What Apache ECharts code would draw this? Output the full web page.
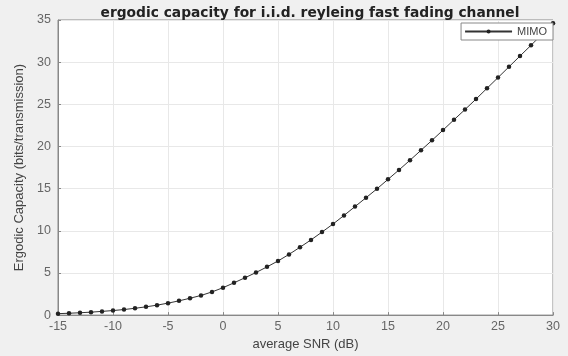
<!DOCTYPE html>
<html>
<head>
<meta charset="utf-8">
<script src="https://cdn.jsdelivr.net/npm/echarts@6/dist/echarts.min.js"></script>
<style>html,body{margin:0;padding:0;background:#f0f0f0;}#c{width:568px;height:356px;}</style>
</head>
<body>
<div id="c"></div>
<script>
var snr = [-15,-14,-13,-12,-11,-10,-9,-8,-7,-6,-5,-4,-3,-2,-1,0,1,2,3,4,5,6,7,8,9,10,11,12,13,14,15,16,17,18,19,20,21,22,23,24,25,26,27,28,29,30];
var capacity = [0.17,0.22,0.28,0.35,0.44,0.54,0.66,0.81,0.98,1.18,1.42,1.69,2.0,2.33,2.75,3.25,3.83,4.43,5.05,5.72,6.42,7.2,8.05,8.92,9.85,10.8,11.82,12.87,13.92,14.98,16.1,17.22,18.37,19.55,20.73,21.94,23.17,24.38,25.62,26.9,28.17,29.45,30.73,32.0,33.3,34.6];
var xTicks = [-15,-10,-5,0,5,10,15,20,25,30];
var yTicks = [0,5,10,15,20,25,30,35];
var seriesName = 'MIMO';
var titleText = 'ergodic capacity for i.i.d. reyleing fast fading channel';
var xName = 'average SNR (dB)';
var yName = 'Ergodic Capacity (bits/transmission)';

var chart = echarts.init(document.getElementById('c'), null, {renderer:'canvas'});
var pts = snr.map(function(s,i){return [s, capacity[i]];});
var font = 'Liberation Sans';
chart.setOption({
  backgroundColor: '#f0f0f0',
  animation: false,
  title: {
    text: titleText, left: 305, top: 1, textAlign: 'center',
    textStyle: {fontFamily: 'DejaVu Sans', fontSize: 13.8, fontWeight: 'bold', color: '#222'}
  },
  legend: {
    data: [seriesName], right: 15, top: 23,
    backgroundColor: '#fff', borderColor: '#888', borderWidth: 1, borderRadius: 0,
    padding: [3, 6, 3, 3], itemWidth: 47, itemHeight: 5, itemGap: 4,
    textStyle: {fontFamily: font, fontSize: 11, color: '#444'}
  },
  grid: {left: 58, right: 15, top: 20, bottom: 39, show: true, backgroundColor: '#fff', borderColor: '#888', borderWidth: 1},
  xAxis: {
    type: 'value', min: -15, max: 30, interval: 5,
    name: xName, nameLocation: 'middle', nameGap: 21,
    nameTextStyle: {fontFamily: font, fontSize: 13, color: '#444'},
    axisLine: {show: true, onZero: false, lineStyle: {color: '#888'}},
    axisTick: {show: true, inside: true, length: 3, lineStyle: {color: '#888'}},
    axisLabel: {fontFamily: font, fontSize: 12.5, color: '#666', margin: 5,
      formatter: function(v){return xTicks.indexOf(v) >= 0 ? String(v) : '';}},
    splitLine: {show: true, lineStyle: {color: '#e8e8e8'}}
  },
  yAxis: {
    type: 'value', min: 0, max: 35, interval: 5,
    name: yName, nameLocation: 'middle', nameGap: 31,
    nameTextStyle: {fontFamily: font, fontSize: 13, color: '#444'},
    axisLine: {show: true, onZero: false, lineStyle: {color: '#888'}},
    axisTick: {show: true, inside: true, length: 3, lineStyle: {color: '#888'}},
    axisLabel: {fontFamily: font, fontSize: 12.5, color: '#666', margin: 7,
      formatter: function(v){return yTicks.indexOf(v) >= 0 ? String(v) : '';}},
    splitLine: {show: true, lineStyle: {color: '#e8e8e8'}}
  },
  series: [{
    name: seriesName, type: 'line', data: pts,
    symbol: 'circle', symbolSize: 4.5, showSymbol: true,
    lineStyle: {color: '#333', width: 1},
    itemStyle: {color: '#222'},
    clip: true
  }]
});
</script>
</body>
</html>
